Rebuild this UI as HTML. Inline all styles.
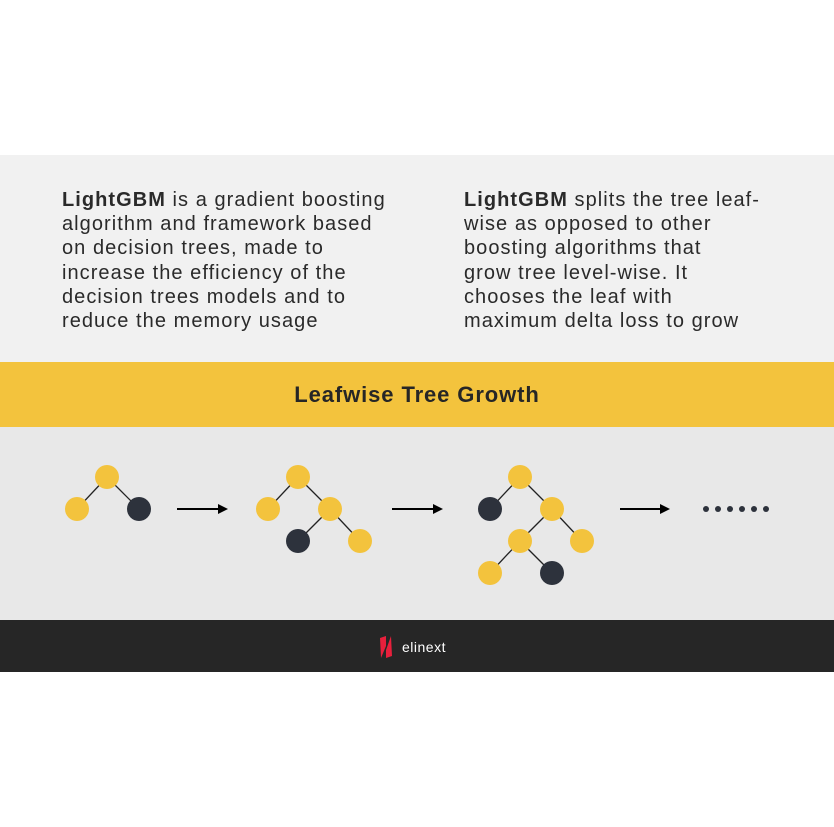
<!DOCTYPE html>
<html><head><style>
body{margin:0;width:834px;height:827px;background:#fff;position:relative;font-family:"Liberation Sans",sans-serif;overflow:hidden}
.b{position:absolute;left:0;width:834px}
.t{position:absolute;top:188px;font-size:20px;line-height:24.2px;color:#2a2a2a;letter-spacing:1.05px;white-space:nowrap}
</style></head><body>
<div class="b" style="top:155px;height:207px;background:#f1f1f1"></div>
<div class="b" style="top:362px;height:65px;background:#f3c33d;text-align:center;line-height:65px;font-weight:bold;font-size:22px;letter-spacing:0.9px;color:#262626">Leafwise Tree Growth</div>
<div class="b" style="top:427px;height:193px;background:#e8e8e8"></div>
<div class="b" style="top:620px;height:52px;background:#262626"></div>
<div class="t" style="left:62px"><b>LightGBM</b> is a gradient boosting<br>algorithm and framework based<br>on decision trees, made to<br>increase the efficiency of the<br>decision trees models and to<br>reduce the memory usage</div>
<div class="t" style="left:464px"><b>LightGBM</b> splits the tree leaf-<br>wise as opposed to other<br>boosting algorithms that<br>grow tree level-wise. It<br>chooses the leaf with<br>maximum delta loss to grow</div>
<svg style="position:absolute;left:0;top:0" width="834" height="827">
<g stroke="#222" stroke-width="1.3">
<line x1="107" y1="477" x2="77" y2="509"/><line x1="107" y1="477" x2="139" y2="509"/>
<line x1="298" y1="477" x2="268" y2="509"/><line x1="298" y1="477" x2="330" y2="509"/><line x1="330" y1="509" x2="298" y2="541"/><line x1="330" y1="509" x2="360" y2="541"/>
<line x1="520" y1="477" x2="490" y2="509"/><line x1="520" y1="477" x2="552" y2="509"/><line x1="552" y1="509" x2="520" y2="541"/><line x1="552" y1="509" x2="582" y2="541"/><line x1="520" y1="541" x2="490" y2="573"/><line x1="520" y1="541" x2="552" y2="573"/>
</g>
<g fill="#f3c33d">
<circle cx="107" cy="477" r="12"/><circle cx="77" cy="509" r="12"/>
<circle cx="298" cy="477" r="12"/><circle cx="268" cy="509" r="12"/><circle cx="330" cy="509" r="12"/><circle cx="360" cy="541" r="12"/>
<circle cx="520" cy="477" r="12"/><circle cx="552" cy="509" r="12"/><circle cx="520" cy="541" r="12"/><circle cx="582" cy="541" r="12"/><circle cx="490" cy="573" r="12"/>
</g>
<g fill="#2d323c">
<circle cx="139" cy="509" r="12"/><circle cx="298" cy="541" r="12"/><circle cx="490" cy="509" r="12"/><circle cx="552" cy="573" r="12"/>
</g>
<g stroke="#000" stroke-width="2"><line x1="177" y1="509" x2="220" y2="509"/><line x1="392" y1="509" x2="435" y2="509"/><line x1="620" y1="509" x2="662" y2="509"/></g>
<g fill="#000"><polygon points="218,504 228,509 218,514"/><polygon points="433,504 443,509 433,514"/><polygon points="660,504 670,509 660,514"/></g>
<g fill="#2d323c"><circle cx="706" cy="509" r="3"/><circle cx="718" cy="509" r="3"/><circle cx="730" cy="509" r="3"/><circle cx="742" cy="509" r="3"/><circle cx="754" cy="509" r="3"/><circle cx="766" cy="509" r="3"/></g>
<path d="M380 638 L386 636 L386 650 L391 636 L392 656 L386 658 L386 646 L381 658 Z" fill="#e8203c"/>
<text x="402" y="652" fill="#fff" font-size="14" font-family="Liberation Sans, sans-serif" letter-spacing="0.5">elinext</text>
</svg>
</body></html>
